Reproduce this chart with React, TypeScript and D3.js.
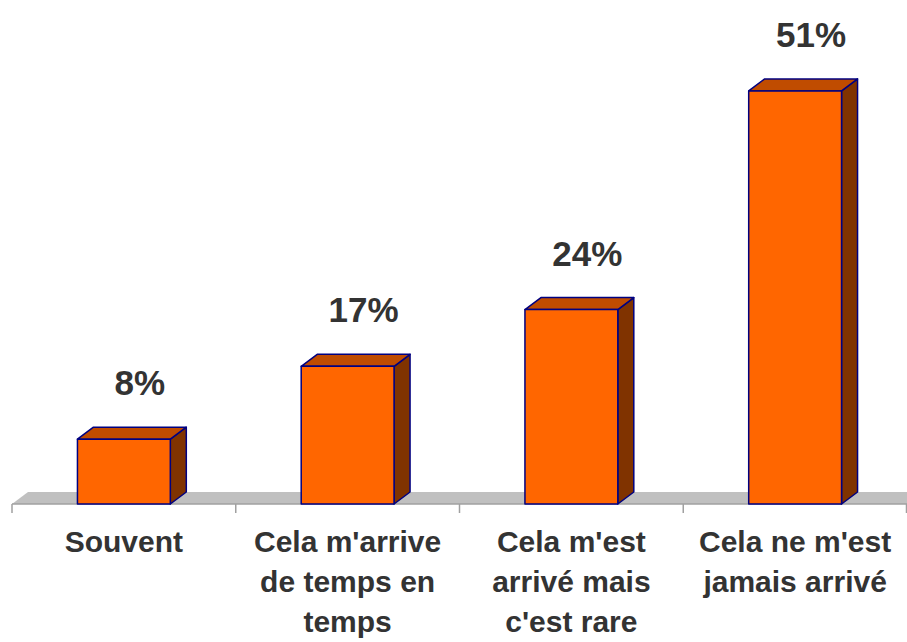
import React from "react";
import * as d3 from "d3";

const categories = ["Souvent", "Cela m'arrive de temps en temps", "Cela m'est arrivé mais c'est rare", "Cela ne m'est jamais arrivé"];
const categoryLines = [
  ["Souvent"],
  ["Cela m'arrive", "de temps en", "temps"],
  ["Cela m'est", "arrivé mais", "c'est rare"],
  ["Cela ne m'est", "jamais arrivé"],
];
const values = [8, 17, 24, 51];
const valueLabels = ["8%", "17%", "24%", "51%"];

const W = 907;
const H = 642;
const baseY = 504;
const depthX = 16;
const depthY = 12;
const font = "Arial, 'Liberation Sans', sans-serif";

export default function App() {
  const x = d3.scaleBand<string>().domain(categories).range([12, 907]).padding(0);
  const y = d3.scaleLinear().domain([0, 60]).range([baseY, 18]);
  const barW = x.bandwidth() * 0.415;

  const floor = `M12,${baseY} L${12 + depthX},${baseY - depthY} L${W + 20},${baseY - depthY} L${W + 20},${baseY} Z`;

  return (
    <svg width={W} height={H} style={{ position: "absolute", left: 0, top: 0 }}>
      <rect width={W} height={H} fill="#ffffff" />
      <path d={floor} fill="#c0c0c0" />
      <line x1={12} x2={W} y1={baseY} y2={baseY} stroke="#a0a0a0" strokeWidth={1.5} />
      {categories.map((c) => (
        <line key={c} x1={x(c)!} x2={x(c)!} y1={baseY} y2={baseY + 9} stroke="#a0a0a0" strokeWidth={1.5} />
      ))}
      <line x1={W - 0.5} x2={W - 0.5} y1={baseY} y2={baseY + 9} stroke="#a0a0a0" strokeWidth={1.5} />
      {categories.map((c, i) => {
        const cx = x(c)! + x.bandwidth() / 2;
        const x0 = cx - barW / 2;
        const x1 = cx + barW / 2;
        const top = y(values[i]);
        const topFace = `M${x0},${top} L${x0 + depthX},${top - depthY} L${x1 + depthX},${top - depthY} L${x1},${top} Z`;
        const side = `M${x1},${top} L${x1 + depthX},${top - depthY} L${x1 + depthX},${baseY - depthY} L${x1},${baseY} Z`;
        return (
          <g key={c} stroke="#000080" strokeWidth={1.5} strokeLinejoin="round">
            <path d={side} fill="#803300" />
            <path d={topFace} fill="#c04c00" />
            <rect x={x0} y={top} width={barW} height={baseY - top} fill="#ff6600" />
            <text
              x={cx + depthX}
              y={top - 44}
              textAnchor="middle"
              fontFamily={font}
              fontWeight="bold"
              fontSize={35}
              fill="#333333"
              stroke="none"
            >
              {valueLabels[i]}
            </text>
          </g>
        );
      })}
      {categories.map((c, i) => {
        const cx = x(c)! + x.bandwidth() / 2;
        return (
          <text key={c} textAnchor="middle" fontFamily={font} fontWeight="bold" fontSize={30} fill="#333333">
            {categoryLines[i].map((l, j) => (
              <tspan key={j} x={cx} y={552 + j * 40}>
                {l}
              </tspan>
            ))}
          </text>
        );
      })}
    </svg>
  );
}
